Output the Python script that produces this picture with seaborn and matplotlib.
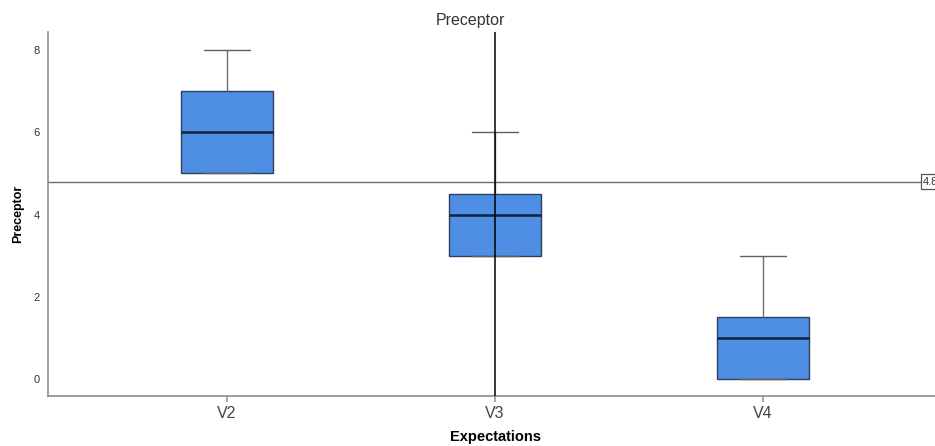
import matplotlib
matplotlib.use("Agg")
import matplotlib.pyplot as plt
import seaborn as sns
import pandas as pd

# Scores per expectation group
categories = ["V2", "V3", "V4"]
v2_scores = [5, 5, 5, 6, 7, 7, 8]
v3_scores = [3, 3, 3, 4, 4, 5, 6]
v4_scores = [0, 0, 0, 1, 1, 2, 3]
reference_value = 4.8
y_ticks = [0, 2, 4, 6, 8]

df = pd.DataFrame({
    "Expectations": ["V2"] * len(v2_scores) + ["V3"] * len(v3_scores) + ["V4"] * len(v4_scores),
    "Preceptor": v2_scores + v3_scores + v4_scores,
})

sns.set_theme(style="white")
plt.rcParams["font.family"] = ["Liberation Sans", "DejaVu Sans"]

fig = plt.figure(figsize=(9.35, 4.46), dpi=100)
ax = fig.add_axes([48 / 935, 50 / 446, (942 - 48) / 935, (396 - 32) / 446])

sns.boxplot(
    data=df, x="Expectations", y="Preceptor", order=categories, ax=ax,
    color="#4F8FE3", width=0.34, whis=1.5, linewidth=1.0,
    boxprops=dict(facecolor="#4F8FE3", edgecolor="#2E3E5C"),
    whiskerprops=dict(color="#707070"),
    capprops=dict(color="#606060"),
    medianprops=dict(color="#10203F", linewidth=1.8),
    showfliers=False, saturation=1,
)

# Reference line and its value box
ax.axhline(reference_value, color="#6a6a6a", linewidth=1.0, zorder=1)
ax.text(2.597, reference_value, f"{reference_value}", fontsize=8, va="center", ha="left",
        color="#333333",
        bbox=dict(boxstyle="square,pad=0.2", facecolor="white", edgecolor="#555555", linewidth=0.9))

# Vertical marker line through V3
ax.axvline(1, color="black", linewidth=1.1, zorder=5)

ax.set_xlim(-0.668, 2.668)
ax.set_ylim(-0.41, 8.44)
ax.set_yticks(y_ticks)
ax.tick_params(axis="y", labelsize=8, labelcolor="#333333", length=0, pad=6)
ax.tick_params(axis="x", labelsize=11.5, labelcolor="#444444", length=4, color="#9a9a9a",
               bottom=True, pad=3)

for side in ["top", "right"]:
    ax.spines[side].set_visible(False)
for side in ["left", "bottom"]:
    ax.spines[side].set_color("#8c8c8c")
    ax.spines[side].set_linewidth(1.2)

ax.set_xlabel("Expectations", fontsize=10.5, fontweight="bold", color="black", labelpad=7)
ax.set_ylabel("Preceptor", fontsize=9, fontweight="bold", color="black", labelpad=7)

fig.text(470 / 935, 1 - 21 / 446, "Preceptor", ha="center", va="center", fontsize=11.5,
         color="#333333")

fig.savefig("out.png", dpi=100)
